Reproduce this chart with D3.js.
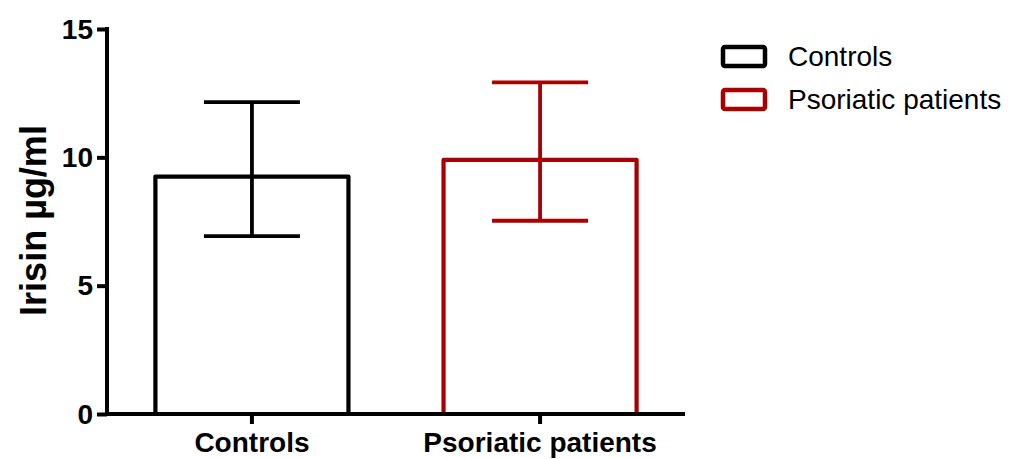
<!DOCTYPE html>
<html>
<head>
<meta charset="utf-8">
<script src="https://cdn.jsdelivr.net/npm/d3@7"></script>
<style>
  html, body { margin: 0; padding: 0; background: #fff; }
  svg { display: block; font-family: "Liberation Sans", Arial, sans-serif; }
</style>
</head>
<body>
<svg id="chart" width="1028" height="459"></svg>
<script>
// Irisin levels (mean with error range) per group
const categories = ["Controls", "Psoriatic patients"];
const means = [9.25, 9.9];
const errLow = [6.93, 7.53];
const errHigh = [12.15, 12.92];
const colors = ["#000000", "#a80000"];
const yTicks = [0, 5, 10, 15];

const svg = d3.select("#chart");
const plotLeft = 107, plotRight = 685, plotTop = 29, plotBottom = 414;

const x = d3.scaleBand()
  .domain(categories)
  .range([plotLeft, plotRight])
  .paddingInner(0.33)
  .paddingOuter(0.168);

const y = d3.scaleLinear().domain([0, 15]).range([plotBottom, plotTop]);

// Bars: open outlines (left, top, right sides)
const bw = x.bandwidth();
svg.append("g").selectAll("path")
  .data(categories)
  .join("path")
  .attr("d", (c, i) => {
    const x0 = x(c), x1 = x(c) + bw, yv = y(means[i]);
    return `M${x0},${plotBottom}L${x0},${yv}L${x1},${yv}L${x1},${plotBottom}`;
  })
  .attr("fill", "none")
  .attr("stroke", (c, i) => colors[i])
  .attr("stroke-width", 4.2)
  .attr("stroke-linejoin", "round");

// Error bars
const capW = 96;
const eg = svg.append("g").selectAll("g")
  .data(categories)
  .join("g")
  .attr("stroke", (c, i) => colors[i])
  .attr("stroke-width", 3.8)
  .attr("fill", "none");
eg.append("line")
  .attr("x1", c => x(c) + bw / 2).attr("x2", c => x(c) + bw / 2)
  .attr("y1", (c, i) => y(errLow[i])).attr("y2", (c, i) => y(errHigh[i]));
eg.append("line")
  .attr("x1", c => x(c) + bw / 2 - capW / 2).attr("x2", c => x(c) + bw / 2 + capW / 2)
  .attr("y1", (c, i) => y(errHigh[i])).attr("y2", (c, i) => y(errHigh[i]));
eg.append("line")
  .attr("x1", c => x(c) + bw / 2 - capW / 2).attr("x2", c => x(c) + bw / 2 + capW / 2)
  .attr("y1", (c, i) => y(errLow[i])).attr("y2", (c, i) => y(errLow[i]));

// Y axis
const yAxis = svg.append("g")
  .attr("transform", `translate(${plotLeft},0)`)
  .call(d3.axisLeft(y).tickValues(yTicks).tickSize(10).tickPadding(4).tickSizeOuter(0));
yAxis.select(".domain").attr("stroke", "#000").attr("stroke-width", 4).attr("d", `M0,${plotTop - 2}V${plotBottom + 2}`);
yAxis.selectAll(".tick line").attr("stroke", "#000").attr("stroke-width", 4);
yAxis.selectAll(".tick text")
  .attr("fill", "#000")
  .attr("dy", "0.33em")
  .style("font-size", "28px")
  .style("font-weight", "bold")
  .style("font-family", "'Liberation Sans', Arial, sans-serif");

// X axis
const xAxis = svg.append("g")
  .attr("transform", `translate(0,${plotBottom})`)
  .call(d3.axisBottom(x).tickSize(10).tickPadding(8).tickSizeOuter(0));
xAxis.select(".domain").attr("stroke", "#000").attr("stroke-width", 4).attr("d", `M${plotLeft - 2},0H${plotRight}`);
xAxis.selectAll(".tick line").attr("stroke", "#000").attr("stroke-width", 4);
xAxis.selectAll(".tick text")
  .attr("fill", "#000")
  .style("font-size", "28px")
  .style("font-weight", "bold")
  .style("font-family", "'Liberation Sans', Arial, sans-serif");

// Y axis title
svg.append("text")
  .attr("transform", `translate(46,${(123 + 318) / 2}) rotate(-90)`)
  .attr("text-anchor", "middle")
  .style("font-size", "36px")
  .style("font-weight", "bold")
  .text("Irisin µg/ml");

// Legend
const legend = svg.append("g").attr("transform", "translate(721,45)");
const lg = legend.selectAll("g")
  .data(categories)
  .join("g")
  .attr("transform", (c, i) => `translate(0,${i * 43})`);
lg.append("rect")
  .attr("x", 2).attr("y", 2).attr("width", 42).attr("height", 19)
  .attr("rx", 2)
  .attr("fill", "none")
  .attr("stroke", (c, i) => colors[i])
  .attr("stroke-width", 4.5);
lg.append("text")
  .attr("x", 67).attr("y", 21)
  .style("font-size", "28px")
  .text(c => c);
</script>
</body>
</html>
